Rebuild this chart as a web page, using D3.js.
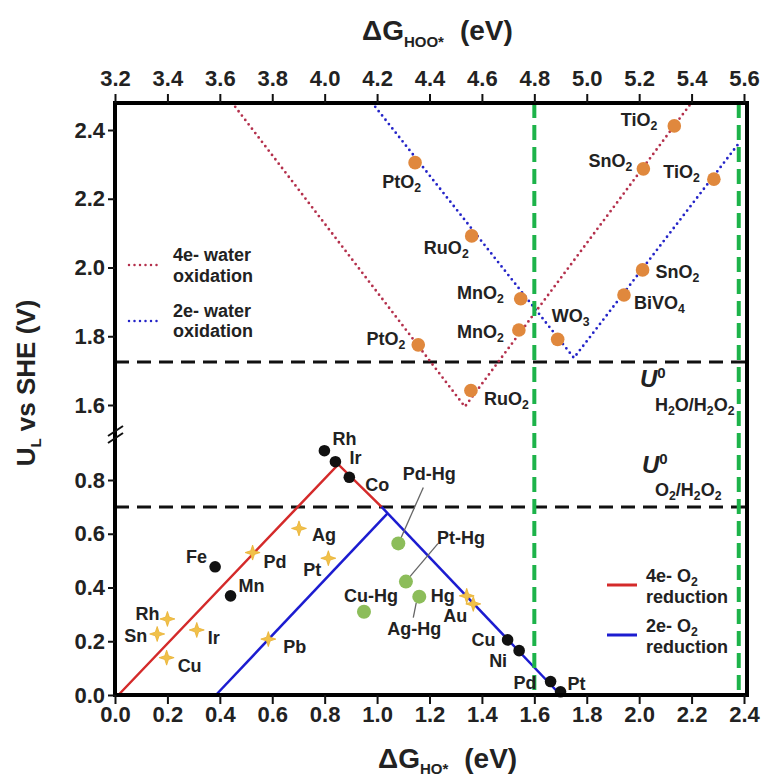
<!DOCTYPE html>
<html>
<head>
<meta charset="utf-8">
<script src="https://cdn.jsdelivr.net/npm/d3@7"></script>
<style>
  body { margin: 0; background: #fff; }
  text { font-family: "Liberation Sans", Arial, sans-serif; font-weight: bold; fill: #222; }
</style>
</head>
<body>
<script>
// ---- data ----
const topTicks = [3.2, 3.4, 3.6, 3.8, 4.0, 4.2, 4.4, 4.6, 4.8, 5.0, 5.2, 5.4, 5.6];
const bottomTicks = [0, 0.2, 0.4, 0.6, 0.8, 1.0, 1.2, 1.4, 1.6, 1.8, 2.0, 2.2, 2.4];
const upperTicks = [1.6, 1.8, 2.0, 2.2, 2.4];
const lowerTicks = [0, 0.2, 0.4, 0.6, 0.8];

// volcano lines (upper vs dG_HOO*, lower vs dG_HO*)
const oer4e = [[3.646, 2.48], [4.535, 1.595], [5.40, 2.48]];
const oer2e = [[4.18, 2.48], [4.951, 1.737], [5.585, 2.366]];
const orr4e = [[0.013, 0], [0.852, 0.858], [1.017, 0.70]];
const orr2eUp = [[0.385, 0], [1.04, 0.676]];
const orr2eDown = [[1.017, 0.70], [1.70, 0]];

const uH2O2 = 1.725;   // U0 H2O/H2O2 line
const uO2 = 0.70;      // U0 O2/H2O2 line
const greenX = [1.6, 2.38];

const oxideNames = ["TiO2", "SnO2", "TiO2", "SnO2", "BiVO4", "WO3", "MnO2", "MnO2", "RuO2", "PtO2", "PtO2", "RuO2"];
const oxideG = [5.334, 5.216, 5.485, 5.213, 5.142, 4.889, 4.748, 4.741, 4.561, 4.345, 4.357, 4.558];
const oxideU = [2.412, 2.287, 2.257, 1.993, 1.92, 1.791, 1.909, 1.818, 2.092, 2.305, 1.775, 1.642];

const blackNames = ["Rh", "Ir", "Co", "Fe", "Mn", "Cu", "Ni", "Pd", "Pt"];
const blackG = [0.799, 0.841, 0.894, 0.382, 0.441, 1.498, 1.542, 1.662, 1.70];
const blackU = [0.909, 0.868, 0.81, 0.477, 0.369, 0.205, 0.165, 0.05, 0.012];

const starNames = ["Rh", "Sn", "Ir", "Cu", "Pd", "Ag", "Pt", "Pb", "Hg", "Au"];
const starG = [0.2, 0.161, 0.312, 0.197, 0.525, 0.702, 0.814, 0.585, 1.342, 1.367];
const starU = [0.283, 0.227, 0.242, 0.139, 0.53, 0.62, 0.509, 0.208, 0.369, 0.339];

const amalgamNames = ["Pd-Hg", "Pt-Hg", "Ag-Hg", "Cu-Hg"];
const amalgamG = [1.081, 1.11, 1.161, 0.95];
const amalgamU = [0.564, 0.422, 0.366, 0.31];

// ---- label placement (anchor, dx, dy) ----
const oxideLab = [["end",-17,0],["end",-11,-2],["end",-14,-1],["start",13,8],["start",10,14],["start",-6,-17],
                  ["end",-17,0],["end",-15,8],["end",-3,18],["end",6,25],["end",-13,0],["start",13,14]];
const blackLab = [["start",8,-6],["start",14,2],["start",16,14],["end",-8,-4],["start",8,-4],
                  ["end",-12,6],["end",-12,16],["end",-14,7],["start",7,-2]];
const starLab = [["end",-8,1],["end",-10,8],["start",11,14],["start",11,14],["start",11,15],
                 ["start",13,13],["end",-7,18],["start",15,14],["end",-12,6],["end",-6,18]];
const amalgamLab = [["middle",31,-63],["middle",55,-38],["middle",-5,38],["middle",7,-10]];
const amalgamLeader = [[[2,-4],[25,-56]], [[4,-5],[32,-38]], [[-3,6],[-6,21]], null];

// ---- setup ----
const W = 761, H = 780;
const L = 115, R = 747, T = 103, B = 695, BRK = 435;

const svg = d3.select("body").append("svg").attr("width", W).attr("height", H);

const xB = d3.scaleLinear().domain([0, 2.4]).range([115, 744]);
const xT = d3.scaleLinear().domain([3.2, 5.6]).range([115, 744]);
const yU = d3.scaleLinear().domain([1.6, 2.4]).range([405, 130]);
const yL = d3.scaleLinear().domain([0, 0.8]).range([695, 480]);

// text with digit subscripts (digit after letter)
function rich(sel, str, size) {
  let prevSub = false;
  const off = size * 0.22;
  for (let i = 0; i < str.length; i++) {
    const c = str[i];
    const sub = /\d/.test(c) && i > 0 && /[A-Za-z]/.test(str[i - 1]);
    const t = sel.append("tspan").text(c);
    if (sub) {
      t.attr("font-size", size * 0.68);
      if (!prevSub) t.attr("dy", off);
    } else if (prevSub) {
      t.attr("dy", -off);
    }
    prevSub = sub;
  }
}

function sparkle(r, ri) {
  const pts = d3.range(8).map(k => {
    const a = k * Math.PI / 4 - Math.PI / 2;
    const rr = k % 2 ? ri : r;
    return [rr * Math.cos(a), rr * Math.sin(a)];
  });
  return d3.line()(pts) + "Z";
}

const defs = svg.append("defs");
defs.append("filter").attr("id", "soft").append("feGaussianBlur").attr("stdDeviation", 0.6);

// ---- reference lines ----
svg.append("line").attr("x1", L).attr("x2", R).attr("y1", yU(uH2O2)).attr("y2", yU(uH2O2))
  .attr("stroke", "#111").attr("stroke-width", 3).attr("stroke-dasharray", "14 8");
svg.append("line").attr("x1", L).attr("x2", R).attr("y1", yL(uO2)).attr("y2", yL(uO2))
  .attr("stroke", "#111").attr("stroke-width", 3).attr("stroke-dasharray", "14 8");

// ---- volcano lines ----
const lineU = d3.line().x(d => xT(d[0])).y(d => yU(d[1]));
const lineL = d3.line().x(d => xB(d[0])).y(d => yL(d[1]));

svg.append("path").attr("d", lineU(oer4e)).attr("fill", "none").attr("stroke", "#b4304c")
  .attr("stroke-width", 2.8).attr("stroke-linecap", "round").attr("stroke-dasharray", "0 5.5");
svg.append("path").attr("d", lineU(oer2e)).attr("fill", "none").attr("stroke", "#2424c8")
  .attr("stroke-width", 2.8).attr("stroke-linecap", "round").attr("stroke-dasharray", "0 5.5");

svg.append("path").attr("d", lineL(orr4e)).attr("fill", "none").attr("stroke", "#d42a2a").attr("stroke-width", 2.5);
svg.append("path").attr("d", lineL(orr2eUp)).attr("fill", "none").attr("stroke", "#1c1cd0").attr("stroke-width", 2.5);
svg.append("path").attr("d", lineL(orr2eDown)).attr("fill", "none").attr("stroke", "#1c1cd0").attr("stroke-width", 2.5);

// ---- green dashed lines ----
greenX.forEach(g => {
  svg.append("line").attr("x1", xB(g)).attr("x2", xB(g)).attr("y1", T).attr("y2", B)
    .attr("stroke", "#1db34a").attr("stroke-width", 4).attr("stroke-dasharray", "15 7");
});

// ---- upper points (oxides) ----
oxideNames.forEach((n, i) => {
  const cx = xT(oxideG[i]), cy = yU(oxideU[i]);
  svg.append("circle").attr("cx", cx).attr("cy", cy).attr("r", 6.8)
    .attr("fill", "#e0883c").attr("filter", "url(#soft)");
  const lb = oxideLab[i];
  const t = svg.append("text").attr("x", cx + lb[1]).attr("y", cy + lb[2])
    .attr("text-anchor", lb[0]).attr("font-size", 18);
  rich(t, n, 18);
});

// ---- lower points ----
blackNames.forEach((n, i) => {
  const cx = xB(blackG[i]), cy = yL(blackU[i]);
  svg.append("circle").attr("cx", cx).attr("cy", cy).attr("r", 5.8).attr("fill", "#111");
  const lb = blackLab[i];
  svg.append("text").attr("x", cx + lb[1]).attr("y", cy + lb[2])
    .attr("text-anchor", lb[0]).attr("font-size", 18).text(n);
});

starNames.forEach((n, i) => {
  const cx = xB(starG[i]), cy = yL(starU[i]);
  svg.append("path").attr("d", sparkle(7.5, 2.6)).attr("transform", `translate(${cx},${cy})`)
    .attr("fill", "#f1c14a").attr("stroke", "#e8b030").attr("stroke-width", 0.8);
  const lb = starLab[i];
  svg.append("text").attr("x", cx + lb[1]).attr("y", cy + lb[2])
    .attr("text-anchor", lb[0]).attr("font-size", 18).text(n);
});

amalgamNames.forEach((n, i) => {
  const cx = xB(amalgamG[i]), cy = yL(amalgamU[i]);
  const ld = amalgamLeader[i];
  if (ld) {
    svg.append("line").attr("x1", cx + ld[0][0]).attr("y1", cy + ld[0][1])
      .attr("x2", cx + ld[1][0]).attr("y2", cy + ld[1][1])
      .attr("stroke", "#666").attr("stroke-width", 1.3);
  }
  svg.append("circle").attr("cx", cx).attr("cy", cy).attr("r", 7)
    .attr("fill", "#8cbd5a").attr("filter", "url(#soft)");
  const lb = amalgamLab[i];
  svg.append("text").attr("x", cx + lb[1]).attr("y", cy + lb[2])
    .attr("text-anchor", lb[0]).attr("font-size", 18).text(n);
});

// ---- U0 labels ----
function u0(x, y) {
  const t = svg.append("text").attr("x", x).attr("y", y).attr("font-size", 24).attr("font-style", "italic");
  t.append("tspan").text("U");
  t.append("tspan").text("0").attr("font-size", 15).attr("dy", -9).attr("font-style", "normal");
}
u0(640, 387);
u0(642, 473);
const h1 = svg.append("text").attr("x", 655).attr("y", 411).attr("font-size", 18).attr("font-weight", "normal");
rich(h1, "H2O/H2O2", 18);
const h2 = svg.append("text").attr("x", 655).attr("y", 496).attr("font-size", 18).attr("font-weight", "normal");
rich(h2, "O2/H2O2", 18);

// ---- legends ----
svg.append("line").attr("x1", 129).attr("x2", 160).attr("y1", 265).attr("y2", 265)
  .attr("stroke", "#b4304c").attr("stroke-width", 2.5).attr("stroke-linecap", "round").attr("stroke-dasharray", "0 5.5");
svg.append("line").attr("x1", 129).attr("x2", 160).attr("y1", 321).attr("y2", 321)
  .attr("stroke", "#2424c8").attr("stroke-width", 2.5).attr("stroke-linecap", "round").attr("stroke-dasharray", "0 5.5");
[["4e- water", 261], ["oxidation", 282], ["2e- water", 317], ["oxidation", 337]].forEach(d => {
  svg.append("text").attr("x", 173).attr("y", d[1]).attr("font-size", 18).text(d[0]);
});

svg.append("line").attr("x1", 607).attr("x2", 637).attr("y1", 585).attr("y2", 585)
  .attr("stroke", "#d42a2a").attr("stroke-width", 3);
svg.append("line").attr("x1", 607).attr("x2", 637).attr("y1", 635).attr("y2", 635)
  .attr("stroke", "#1c1cd0").attr("stroke-width", 3);
[["4e- O2", 582], ["reduction", 603], ["2e- O2", 632], ["reduction", 653]].forEach(d => {
  const t = svg.append("text").attr("x", 646).attr("y", d[1]).attr("font-size", 18);
  rich(t, d[0], 18);
});

// ---- frame ----
svg.append("rect").attr("x", L).attr("y", T).attr("width", R - L).attr("height", B - T)
  .attr("fill", "none").attr("stroke", "#000").attr("stroke-width", 4);

// ---- axes ----
function styleAxis(g) {
  g.select(".domain").remove();
  g.selectAll(".tick line").attr("stroke", "#111").attr("stroke-width", 2);
  g.selectAll(".tick text").attr("font-size", 22).attr("fill", "#222")
    .style("font-family", '"Liberation Sans", Arial, sans-serif').style("font-weight", "bold");
}
svg.append("g").attr("transform", `translate(0,${B})`)
  .call(d3.axisBottom(xB).tickValues(bottomTicks).tickSize(9).tickPadding(2).tickFormat(d3.format(".1f")))
  .call(styleAxis);
svg.append("g").attr("transform", `translate(0,${T})`)
  .call(d3.axisTop(xT).tickValues(topTicks).tickSize(9).tickPadding(8).tickFormat(d3.format(".1f")))
  .call(styleAxis);
svg.append("g").attr("transform", `translate(${L},0)`)
  .call(d3.axisLeft(yU).tickValues(upperTicks).tickSize(7).tickPadding(3).tickFormat(d3.format(".1f")))
  .call(styleAxis);
svg.append("g").attr("transform", `translate(${L},0)`)
  .call(d3.axisLeft(yL).tickValues(lowerTicks).tickSize(7).tickPadding(3).tickFormat(d3.format(".1f")))
  .call(styleAxis);

// axis break marks
[0, 7].forEach(o => {
  svg.append("line").attr("x1", 108).attr("y1", BRK + 8 - o).attr("x2", 123).attr("y2", BRK - 2 - o)
    .attr("stroke", "#111").attr("stroke-width", 2);
});

// ---- titles ----
const tt = svg.append("text").attr("x", 362).attr("y", 40).attr("font-size", 28);
tt.append("tspan").text("ΔG");
tt.append("tspan").text("HOO*").attr("font-size", 15).attr("dy", 7);
tt.append("tspan").text("(eV)").attr("dy", -7).attr("dx", 16);

const bt = svg.append("text").attr("x", 378).attr("y", 768).attr("font-size", 28);
bt.append("tspan").text("ΔG");
bt.append("tspan").text("HO*").attr("font-size", 15).attr("dy", 6);
bt.append("tspan").text("(eV)").attr("dy", -6).attr("dx", 16);

const yt = svg.append("text").attr("transform", "translate(35,383) rotate(-90)")
  .attr("text-anchor", "middle").attr("font-size", 26);
yt.append("tspan").text("U");
yt.append("tspan").text("L").attr("font-size", 15).attr("dy", 6);
yt.append("tspan").text(" vs SHE (V)").attr("dy", -6);
</script>
</body>
</html>
